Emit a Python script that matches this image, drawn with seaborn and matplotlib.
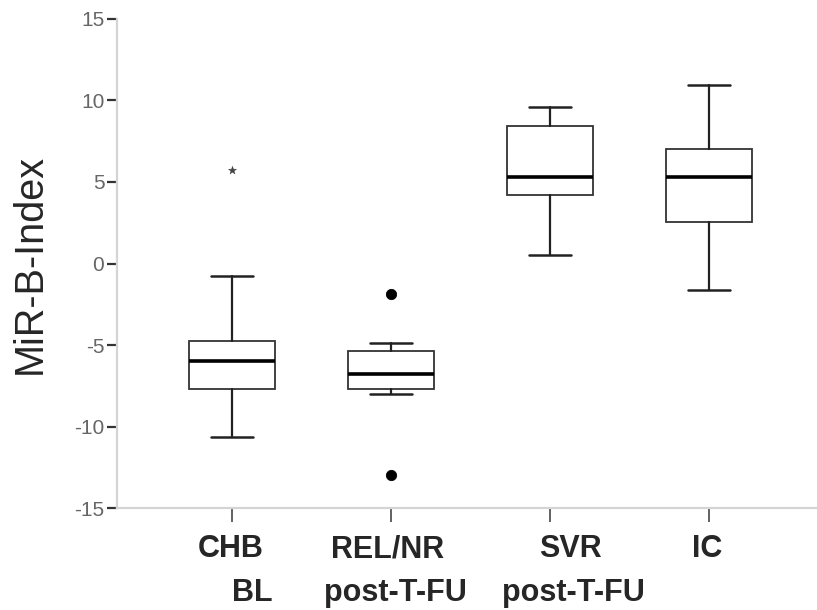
import numpy as np
import pandas as pd
import matplotlib
matplotlib.use("Agg")
import matplotlib.pyplot as plt
import matplotlib.transforms as mtransforms
import seaborn as sns

# Box summaries
groups = ["CHB", "REL/NR", "SVR", "IC"]
group_sub = ["BL", "post-T-FU", "post-T-FU", ""]
whisker_low = [-10.65, -8.0, 0.55, -1.65]
q1 = [-7.7, -7.7, 4.18, 2.55]
median = [-5.95, -6.8, 5.3, 5.3]
q3 = [-4.75, -5.35, 8.42, 7.03]
whisker_high = [-0.77, -4.86, 9.58, 10.95]

# Outliers: group index, value, kind
outlier_group = [0, 1, 1]
outlier_value = [5.74, -1.87, -12.97]
outlier_kind = ["extreme", "outlier", "outlier"]

sns.set_style("white")
plt.rcParams["font.family"] = ["Liberation Sans", "DejaVu Sans"]
plt.rcParams["axes.unicode_minus"] = False

fig = plt.figure(figsize=(8.17, 6.10), dpi=100)
ax = fig.add_axes([0.143, 0.167, 0.857, 0.802])

stats = []
for i in range(len(groups)):
    stats.append({
        "med": median[i], "q1": q1[i], "q3": q3[i],
        "whislo": whisker_low[i], "whishi": whisker_high[i],
        "fliers": [],
    })

ax.bxp(stats, positions=range(len(groups)), widths=0.54, capwidths=0.265,
       showfliers=False, patch_artist=True,
       boxprops=dict(facecolor="white", edgecolor="#333333", linewidth=1.3),
       medianprops=dict(color="black", linewidth=2.6),
       whiskerprops=dict(color="#222222", linewidth=1.6),
       capprops=dict(color="#222222", linewidth=1.8))

out_df = pd.DataFrame({"group": outlier_group, "value": outlier_value,
                       "kind": outlier_kind})
sns.scatterplot(data=out_df[out_df["kind"] == "outlier"], x="group", y="value",
                ax=ax, color="black", marker="o", s=55, edgecolor="black",
                legend=False, zorder=5)
sns.scatterplot(data=out_df[out_df["kind"] == "extreme"], x="group", y="value",
                ax=ax, color="#444444", marker="*", s=35, edgecolor="#444444",
                linewidth=0.4, legend=False, zorder=5)

ax.set_xlim(-0.723, 3.68)
ax.set_ylim(-15, 15)
ax.set_yticks([-15, -10, -5, 0, 5, 10, 15])
ax.set_xticks(range(len(groups)))
ax.set_xticklabels([])
ax.set_xlabel("")
ax.set_ylabel("MiR-B-Index", fontsize=28.5, labelpad=18)

# category labels, two lines each, nudged like the original
trans = mtransforms.blended_transform_factory(ax.transData, ax.transAxes)
line1_shift = [-0.01, -0.02, 0.13, -0.01]
line2_shift = [0.13, 0.03, 0.15, 0.0]
for i in range(len(groups)):
    ax.text(i + line1_shift[i], -0.100, groups[i], transform=trans,
            ha="center", va="baseline", fontsize=22, fontweight="bold")
    ax.text(i + line2_shift[i], -0.190, group_sub[i], transform=trans,
            ha="center", va="baseline", fontsize=22, fontweight="bold")

ax.tick_params(axis="y", direction="out", length=7, width=1.6, color="#333333",
               labelsize=15, labelcolor="#666666", pad=2, left=True)
ax.tick_params(axis="x", direction="out", length=10, width=1.3, color="#555555",
               bottom=True)

for side in ["top", "right"]:
    ax.spines[side].set_visible(False)
for side in ["left", "bottom"]:
    ax.spines[side].set_color("#d4d4d4")
    ax.spines[side].set_linewidth(1.6)

fig.savefig("out.png", dpi=100)
